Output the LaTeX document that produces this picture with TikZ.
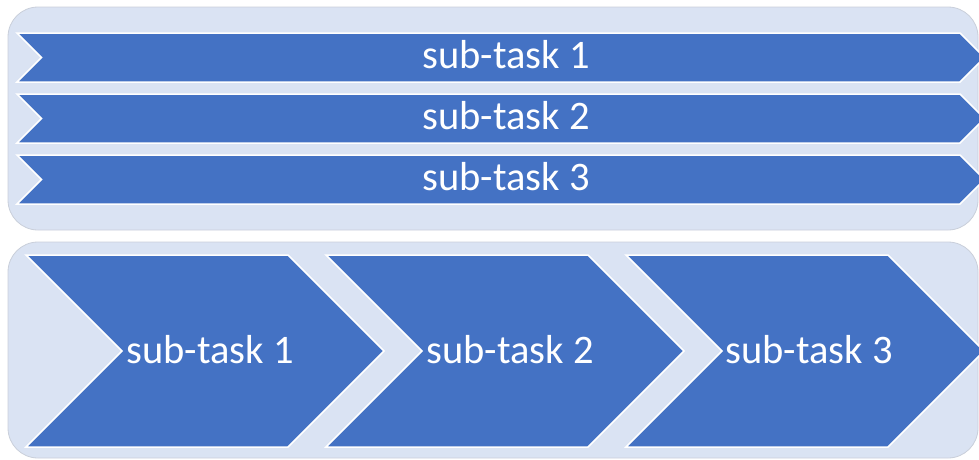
\documentclass[tikz,border=0pt]{standalone}
\usepackage{fontspec}
\setmainfont{Carlito}
\definecolor{panelfill}{HTML}{DAE3F3}
\definecolor{panelline}{HTML}{C9CFDA}
\definecolor{barblue}{HTML}{4472C4}
\tikzset{
  panel/.style={fill=panelfill, draw=panelline, line width=0.8pt, rounded corners=30pt},
  chev/.style={fill=barblue, draw=white, line width=1.5pt, line join=miter},
  lbl/.style={text=white, font=\fontsize{40.5}{45}\selectfont, inner sep=0pt}
}
\begin{document}
\begin{tikzpicture}[x=1pt,y=-1pt]
\useasboundingbox (0,0) rectangle (979,459);
\begin{scope}
\clip (0,0) rectangle (979,459);
% panels
\path[panel] (8,7) rectangle (978,230);
\path[panel] (8,242) rectangle (978,458);
% top bars
\foreach \i/\y in {1/33,2/94,3/155}{
  \path[chev] (17,\y) -- (960,\y) -- (984.5,\y+24.5) -- (960,\y+49) -- (17,\y+49) -- (41.5,\y+24.5) -- cycle;
}
% bottom chevrons
\foreach \i/\x in {1/26,2/326,3/626}{
  \path[chev] (\x,255) -- (\x+262,255) -- (\x+358,351) -- (\x+262,447) -- (\x,447) -- (\x+96,351) -- cycle;
}
\end{scope}
\node[lbl] (t1) at (506,55) {sub-task 1};
\node[lbl] (t2) at (506,116) {sub-task 2};
\node[lbl] (t3) at (506,177) {sub-task 3};
\node[lbl] (b1) at (210,350) {sub-task 1};
\node[lbl] (b2) at (510,350) {sub-task 2};
\node[lbl] (b3) at (809,350) {sub-task 3};
\end{tikzpicture}
\end{document}
